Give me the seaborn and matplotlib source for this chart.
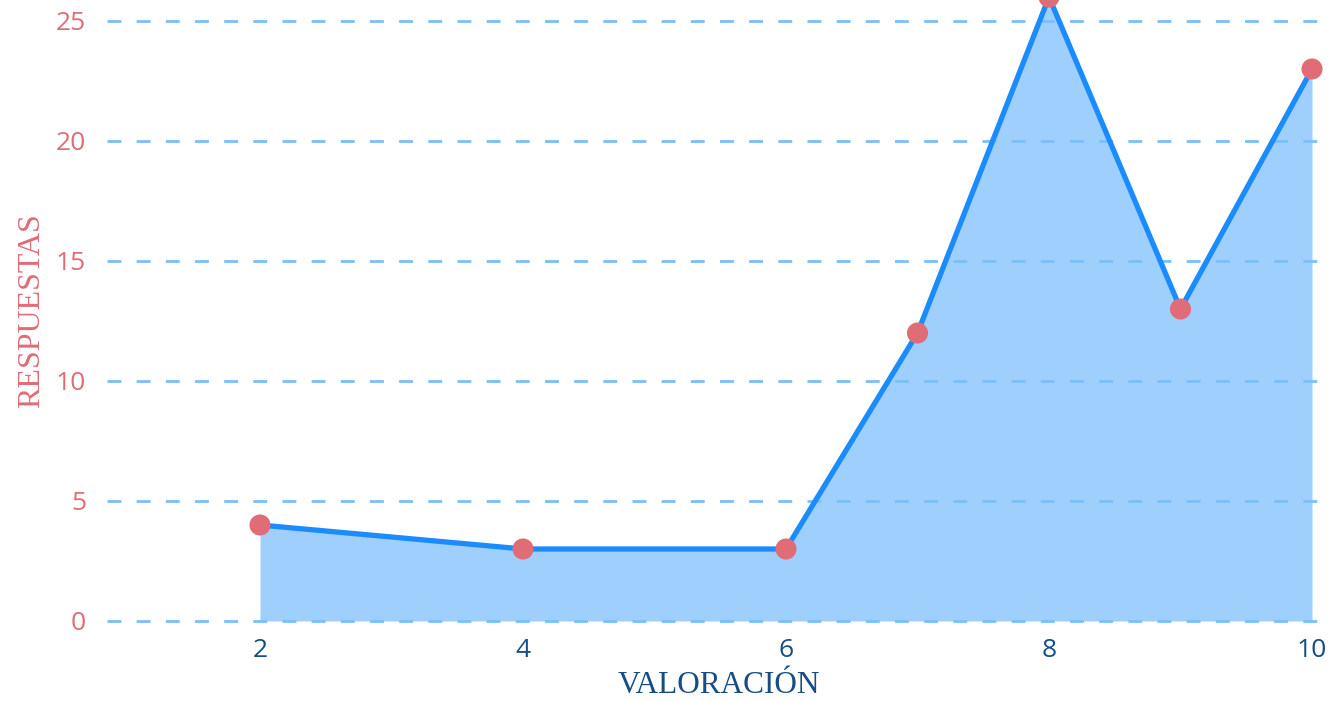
import matplotlib
matplotlib.use("Agg")
import matplotlib.pyplot as plt
import seaborn as sns
import pandas as pd

valoracion = [2, 4, 6, 7, 8, 9, 10]
respuestas = [4, 3, 3, 12, 26, 13, 23]
x_ticks = [2, 4, 6, 8, 10]
y_ticks = [0, 5, 10, 15, 20, 25]

df = pd.DataFrame({"VALORACIÓN": valoracion, "RESPUESTAS": respuestas})

sns.set_theme(style="white")
plt.rcParams['font.family'] = ['Open Sans', 'DejaVu Sans']

fig = plt.figure(figsize=(13.3, 7.01), dpi=100)
ax = fig.add_axes([107/1330, (701-621)/701, (1330-107)/1330, 621/701])

ax.fill_between(df["VALORACIÓN"], df["RESPUESTAS"], 0, color="#9fd0fd", lw=0, zorder=2)
sns.lineplot(data=df, x="VALORACIÓN", y="RESPUESTAS", ax=ax, color="#1a8cff", lw=3.8, zorder=3)
sns.scatterplot(data=df, x="VALORACIÓN", y="RESPUESTAS", ax=ax, color="#e06c75", s=230,
                edgecolor="none", zorder=4, clip_on=False)

ax.set_xlim(2 - 153/131.5, 10 + 18/131.5)
ax.set_ylim(0, 621/24)
ax.set_xticks(x_ticks)
ax.set_yticks(y_ticks)
ax.yaxis.grid(True, color="#7abffa", linestyle=(0, (5, 5.5)), lw=2)
for gl in ax.yaxis.get_gridlines():
    gl.set_clip_on(False)
ax.set_axisbelow(False)
for s in ax.spines.values():
    s.set_visible(False)
ax.tick_params(axis="x", colors="#154e85", labelsize=19, length=0, pad=12)
ax.tick_params(axis="y", colors="#e06c75", labelsize=19, length=0, pad=15)
ax.set_xlabel("VALORACIÓN", family=["Liberation Serif"], fontsize=22.5, color="#154e85", labelpad=6)
ax.set_ylabel("RESPUESTAS", family=["Liberation Serif"], fontsize=23, color="#e06c75", labelpad=7)

fig.savefig("out.png", dpi=100)
